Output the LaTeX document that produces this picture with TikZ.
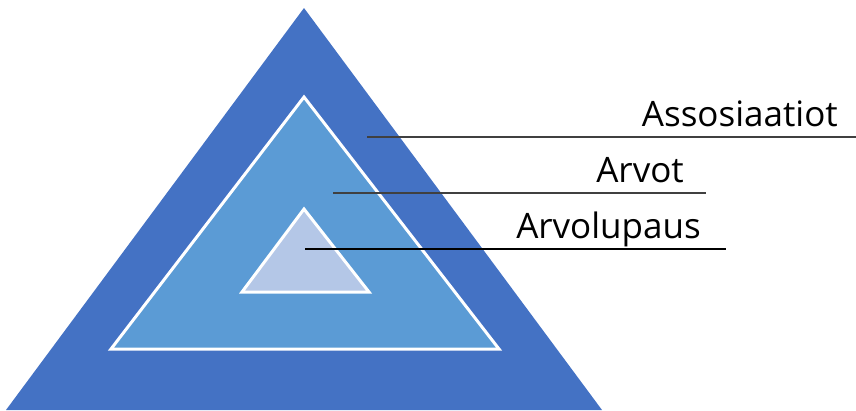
\documentclass[tikz,border=0pt]{standalone}
\usepackage{fontspec}
\setmainfont{Open Sans}
\usetikzlibrary{calc}

\definecolor{outerblue}{HTML}{4472C4}
\definecolor{midblue}{HTML}{5B9BD5}
\definecolor{innerblue}{HTML}{B4C7E7}

\begin{document}
\begin{tikzpicture}[x=1pt,y=-1pt,
    layer/.style={line join=miter},
    inlayer/.style={draw=white,line width=3pt,line join=miter},
    label/.style={anchor=base east,inner sep=0pt,font=\fontsize{35}{42}\selectfont},
    leader/.style={line width=1.5pt}]
    \useasboundingbox (0,0) rectangle (856,410);

    % Define the points of the triangles
    \coordinate (A) at (304,8);
    \coordinate (B) at (6,410);
    \coordinate (C) at (602,410);
    \coordinate (D) at (304,97);
    \coordinate (E) at (111,349);
    \coordinate (F) at (499,349);
    \coordinate (G) at (304,209);
    \coordinate (H) at (242,292);
    \coordinate (I) at (369,292);

    % Draw the three triangles
    \fill[outerblue,layer] (A) -- (B) -- (C) -- cycle;
    \filldraw[fill=midblue,inlayer] (D) -- (E) -- (F) -- cycle;
    \filldraw[fill=innerblue,inlayer] (G) -- (H) -- (I) -- cycle;

    % Place the labels
    \node[label] (assoc) at (838,126) {Assosiaatiot};
    \node[label] (arvot) at (684,182) {Arvot};
    \node[label] (lupaus) at (701,238) {Arvolupaus};

    % Draw the leader lines
    \coordinate (P) at (367,137);
    \coordinate (Q) at (856,137);
    \coordinate (R) at (333,193);
    \coordinate (S) at (706,193);
    \coordinate (T) at (305,249);
    \coordinate (U) at (726,249);
    \draw[leader,black!75] (P) -- (Q);
    \draw[leader,black!75] (R) -- (S);
    \draw[leader,line width=2.2pt] (T) -- (U);

\end{tikzpicture}
\end{document}
